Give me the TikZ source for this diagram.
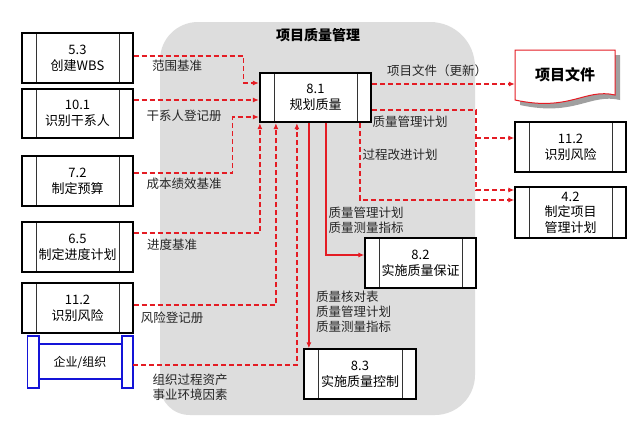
\documentclass[tikz,border=0pt]{standalone}
\usepackage{fontspec}
\setmainfont{Noto Sans CJK SC}
\usetikzlibrary{arrows.meta,calc}
\definecolor{lred}{RGB}{228,28,36}
\definecolor{regiongray}{RGB}{221,221,221}
\definecolor{orgblue}{RGB}{20,20,215}
\definecolor{shadowgray}{RGB}{160,160,160}
\begin{document}
\begin{tikzpicture}[x=1pt,y=-1pt,
  proc/.style={draw=black, line width=1.3pt, fill=white, minimum width=111pt, minimum height=50pt,
    inner sep=0pt, align=center, font=\fontsize{13}{16}\selectfont,
    path picture={\draw[line width=0.8pt,black!80]
      ([xshift=14pt]path picture bounding box.north west) -- ([xshift=14pt]path picture bounding box.south west)
      ([xshift=-14pt]path picture bounding box.north east) -- ([xshift=-14pt]path picture bounding box.south east);}},
  lbl/.style={font=\fontsize{12.5}{15}\selectfont, text=black!85, inner sep=0pt, align=center},
  dflow/.style={draw=lred, line width=1.3pt, dash pattern=on 5pt off 3pt, -{Latex[length=6pt,width=5pt]}},
  sflow/.style={draw=lred, line width=1.5pt, -{Latex[length=6pt,width=5pt]}}]
% canvas
\fill[white] (0,0) rectangle (640,439);
\path[use as bounding box] (0,0) rectangle (640,439);
% gray region
\fill[regiongray] (160,60) .. controls (160,39) and (177,22) .. (198,22)
  -- (430,22) .. controls (455,22) and (475,42) .. (475,67)
  -- (475,375) .. controls (475,397) and (457,415) .. (435,415)
  -- (190,415) .. controls (173,415) and (160,402) .. (160,385) -- cycle;
\node[font=\fontsize{14}{16}\selectfont\bfseries] (title) at (318,35) {项目质量管理};
% left inputs
\node[proc] (b53) at (77.5,58) {5.3\\创建WBS};
\node[proc, minimum height=49pt] (b101) at (77.5,113.5) {10.1\\识别干系人};
\node[proc] (b72) at (77.5,181) {7.2\\制定预算};
\node[proc] (b65) at (77.5,247) {6.5\\制定进度计划};
\node[proc] (b112L) at (77.5,308) {11.2\\识别风险};
% org shape
\node[minimum width=106pt, minimum height=52pt, inner sep=0pt, font=\fontsize{12}{15}\selectfont] (org) at (80,362) {企业/组织};
\draw[orgblue, line width=1.8pt] (39,344) rectangle (122,379);
\draw[orgblue, line width=1.8pt, fill=white] (27.5,336) rectangle (39,388);
\draw[orgblue, line width=1.8pt, fill=white] (122,336) rectangle (133,388);
% central processes
\node[proc, line width=2.2pt, minimum height=49pt] (p81) at (315.5,97.5) {8.1\\规划质量};
\node[proc] (p82) at (420.5,263) {8.2\\实施质量保证};
\node[proc, minimum width=112pt] (p83) at (360,374) {8.3\\实施质量控制};
% right outputs
\fill[shadowgray] (520,55) -- (620,55) -- (620,100) .. controls (590,93) and (575,117) .. (520,105) -- cycle;
\draw[lred, line width=1pt, fill=white] (515,50) -- (615,50) -- (615,95) .. controls (585,88) and (570,112) .. (515,100) -- cycle;
\node[minimum width=100pt, minimum height=50pt, inner sep=0pt, font=\fontsize{15}{17}\selectfont\bfseries] (doc) at (565,75) {项目文件};
\node[proc, minimum width=111pt] (r112) at (570.5,147) {11.2\\识别风险};
\node[proc, minimum width=111pt, minimum height=51pt, font=\fontsize{13}{15.5}\selectfont] (r42) at (570.5,212.5) {4.2\\制定项目\\管理计划};
% input connectors
\draw[dflow] ([yshift=2pt]b53.east) -- ++(110,0) |- ([yshift=14.5pt]p81.west);
\coordinate (s2) at ([yshift=13.5pt]b101.east);
\draw[dflow] (s2) -- (s2 -| p81.west);
\draw[dflow] ([yshift=8pt]b72.east) -- ++(99,0) |- ([yshift=-19.5pt]p81.west);
\draw[dflow] ([yshift=14pt]b65.east) -| ([xshift=1pt]p81.south west);
\draw[dflow] ([yshift=3pt]b112L.east) -| ([xshift=17pt]p81.south west);
\draw[dflow] ([yshift=-3pt]org.east) -| ([xshift=38pt]p81.south west);
% output connectors
\coordinate (s7) at ([yshift=13.5pt]p81.east);
\draw[dflow] (s7) -- (s7 -| doc.west);
\coordinate (s8) at ([yshift=-12.5pt]p81.east);
\draw[dflow] (s8) -- ++(104,0) coordinate (j8) |- ([yshift=22.5pt]r42.west);
\coordinate (t1) at ([yshift=9pt]r112.west);
\draw[dflow] (t1 -| j8) -- (t1);
\draw[dflow] ([xshift=-12pt]p81.south east) |- ([yshift=12.5pt]r42.west);
\coordinate (s10) at ([xshift=50pt]p81.south west);
\draw[sflow] (s10) -- (s10 |- p83.north);
\draw[sflow] ([xshift=67pt]p81.south west) |- ([yshift=8pt]p82.west);
% labels
\node[lbl] (l1) at (177,66) {范围基准};
\node[lbl] (l2) at (184,116) {干系人登记册};
\node[lbl] (l3) at (184,184) {成本绩效基准};
\node[lbl] (l4) at (172,245) {进度基准};
\node[lbl] (l5) at (172,318) {风险登记册};
\node[lbl] (l6) at (190,387.5) {组织过程资产\\事业环境因素};
\node[lbl] (l7) at (437,71) {项目文件（更新）};
\node[lbl] (l8) at (410,122) {质量管理计划};
\node[lbl] (l9) at (400,155) {过程改进计划};
\node[lbl] (l10) at (366,220.5) {质量管理计划\\质量测量指标};
\node[lbl, align=left, anchor=west] (l11) at (316,312) {质量核对表\\质量管理计划\\质量测量指标};
\end{tikzpicture}
\end{document}
